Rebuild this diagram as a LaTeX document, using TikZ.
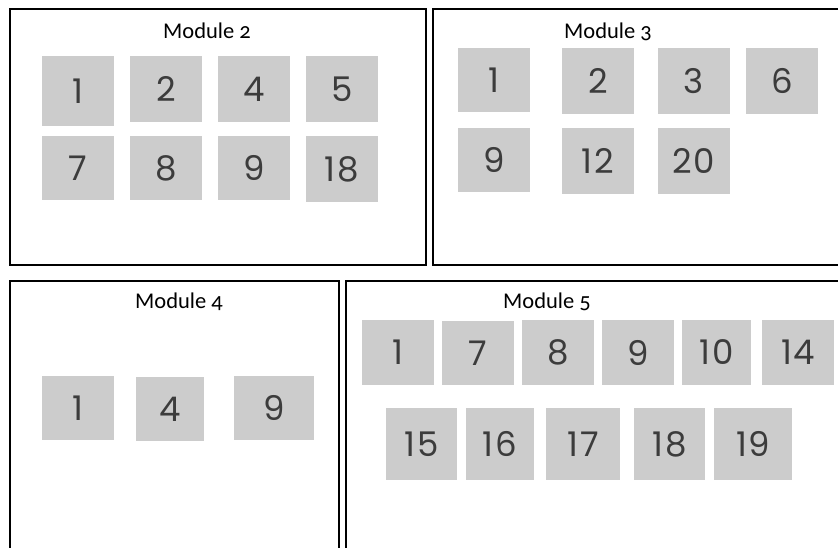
\documentclass[tikz,border=0pt]{standalone}
\usepackage{fontspec}
\setmainfont{Carlito}[Numbers=OldStyle]
\newfontfamily\numfont{Poppins}[LetterSpace=5]
\definecolor{sqgray}{HTML}{CCCCCC}
\definecolor{numgray}{HTML}{3C3C3C}
\tikzset{
  sq/.style={fill=sqgray,text=numgray,inner sep=0pt,font=\numfont\fontsize{34}{34}\selectfont},
  modbox/.style={draw=black,line width=1.5pt},
  modtitle/.style={anchor=base,inner sep=0pt,font=\fontsize{22.5}{24}\selectfont}
}
\newcommand\sqbox[6]{\node[sq,minimum width={#4-#2},minimum height={#5-#3}] (#1) at ({(#2+#4)/2},{(#3+#5)/2}) {#6};}
\begin{document}
\begin{tikzpicture}[x=1pt,y=-1pt]
\useasboundingbox (0,0) rectangle (838,547);
% module boxes
\draw[modbox] (10,9) rectangle (426,265);
\draw[modbox] (433,9) rectangle (848,265);
\draw[modbox] (10,281) rectangle (339,552);
\draw[modbox] (346,281) rectangle (848,552);
% titles
\node[modtitle] (t2) at (207,38) {Module 2};
\node[modtitle] (t3) at (608,38) {Module 3};
\node[modtitle] (t4) at (179,308) {Module 4};
\node[modtitle] (t5) at (547,308) {Module 5};
% module 2
\sqbox{a1}{42}{56}{114}{126}{1}
\sqbox{a2}{130}{56}{202}{122}{2}
\sqbox{a4}{218}{56}{290}{122}{4}
\sqbox{a5}{306}{56}{378}{122}{5}
\sqbox{a7}{42}{136}{114}{200}{7}
\sqbox{a8}{130}{136}{202}{200}{8}
\sqbox{a9}{218}{136}{290}{200}{9}
\sqbox{a18}{306}{136}{378}{202}{18}
% module 3
\sqbox{b1}{458}{48}{530}{112}{1}
\sqbox{b2}{562}{48}{634}{114}{2}
\sqbox{b3}{658}{48}{730}{114}{3}
\sqbox{b6}{746}{48}{818}{114}{6}
\sqbox{b9}{458}{128}{530}{192}{9}
\sqbox{b12}{562}{128}{634}{194}{12}
\sqbox{b20}{658}{128}{730}{194}{20}
% module 4
\sqbox{c1}{42}{376}{114}{440}{1}
\sqbox{c4}{136}{377}{204}{441}{4}
\sqbox{c9}{234}{376}{314}{440}{9}
% module 5
\sqbox{d1}{362}{320}{434}{385}{1}
\sqbox{d7}{442}{321}{514}{385}{7}
\sqbox{d8}{522}{320}{594}{385}{8}
\sqbox{d9}{602}{320}{674}{385}{9}
\sqbox{d10}{682}{320}{751}{385}{10}
\sqbox{d14}{762}{320}{834}{385}{14}
\sqbox{d15}{386}{408}{457}{480}{15}
\sqbox{d16}{466}{408}{534}{480}{16}
\sqbox{d17}{546}{408}{620}{480}{17}
\sqbox{d18}{634}{408}{705}{480}{18}
\sqbox{d19}{714}{408}{792}{480}{19}
\end{tikzpicture}
\end{document}
